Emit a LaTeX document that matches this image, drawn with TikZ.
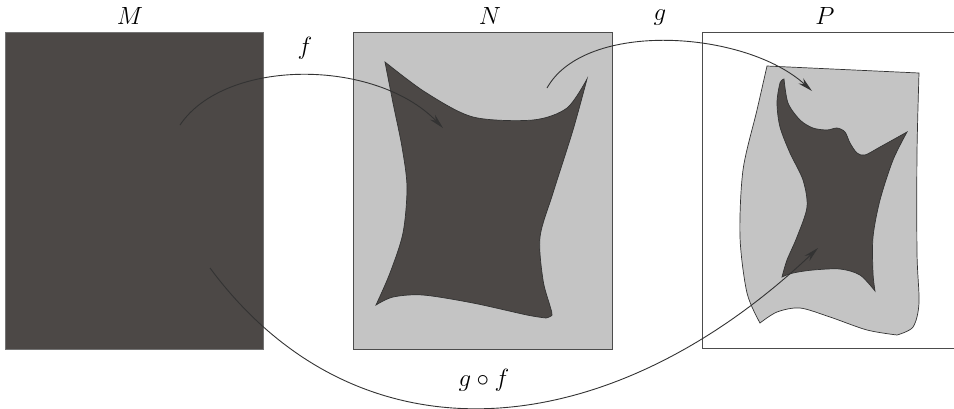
\documentclass[tikz,border=0pt]{standalone}
\usetikzlibrary{arrows.meta}
\definecolor{darkfill}{RGB}{76,72,70}
\definecolor{lightfill}{RGB}{196,196,196}
\begin{document}
\begin{tikzpicture}[x=1pt,y=-1pt,
  region/.style={draw=black!70, line width=0.8pt, inner sep=0pt, outer sep=0pt, anchor=north west},
  lbl/.style={font=\fontsize{23}{27}\selectfont, inner sep=0pt},
  mapto/.style={draw=black!80, line width=0.9pt, -{Stealth[length=15pt,width=7pt]}},
  blob/.style={draw=black!80, line width=0.7pt}]
\useasboundingbox (0,0) rectangle (954,408);
% sets
\node[region, fill=darkfill, draw=black!55, minimum width=258pt, minimum height=317pt] (M) at (5,32) {};
\node[region, fill=lightfill, minimum width=259pt, minimum height=317pt] (N) at (353,32) {};
\node[region, fill=white, minimum width=262pt, minimum height=316pt] (P) at (702,32) {};
% image of f in N
\path[blob, fill=darkfill]
  plot[smooth] coordinates {(385,62) (425,92) (473,117) (533,120) (567,108) (587,79)}
  -- plot[smooth] coordinates {(587,79) (573,130) (553,193) (540,237) (543,280) (550,306) (552,315) (546,318)}
  -- plot[smooth] coordinates {(546,318) (527,315) (473,303) (423,295) (393,297) (376,305)}
  -- plot[smooth] coordinates {(376,305) (390,273) (403,233) (407,187) (402,147) (393,103) (385,62)}
  -- cycle;
% image of g in P
\path[blob, fill=lightfill]
  (767,66) -- (919,73)
  -- plot[smooth] coordinates {(919,73) (917,153) (917,253) (919,303) (913,327) (897,335)}
  -- plot[smooth] coordinates {(897,335) (867,330) (830,317) (800,308) (777,312) (760,323)}
  -- plot[smooth] coordinates {(760,323) (747,293) (740,237) (743,170) (757,110) (767,66)}
  -- cycle;
% image of g o f in P
\path[blob, fill=darkfill]
  plot[smooth] coordinates {(784,79) (780,83) (777,103) (780,127) (790,153) (803,180) (807,207) (797,237) (787,260) (782,277)}
  -- plot[smooth] coordinates {(782,277) (793,273) (813,270) (840,269) (860,275) (875,291)}
  -- plot[smooth] coordinates {(875,291) (873,273) (873,237) (880,200) (893,160) (907,132)}
  -- plot[smooth] coordinates {(907,132) (880,147) (865,155) (857,153) (850,143) (845,132) (837,128) (827,130) (813,128) (800,120) (788,103) (784,79)}
  -- cycle;
% connector end points
\coordinate (fs) at (180,125);
\coordinate (ft) at (443,128);
\coordinate (gs) at (547,88);
\coordinate (gt) at (812,91);
\coordinate (hs) at (210,268);
\coordinate (ht) at (818,248);
% maps
\draw[mapto] (fs) .. controls (225,58) and (375,58) .. (ft);
\draw[mapto] (gs) .. controls (585,20) and (745,30) .. (gt);
\draw[mapto] (hs) .. controls (360,470) and (610,445) .. (ht);
% labels
\node[lbl] (lM) at (130,16) {$M$};
\node[lbl] (lN) at (490,16) {$N$};
\node[lbl] (lP) at (825,16) {$P$};
\node[lbl] (lf) at (305,48) {$f$};
\node[lbl] (lg) at (660,18) {$g$};
\node[lbl] (lgf) at (484,380) {$g\circ f$};
\end{tikzpicture}
\end{document}
